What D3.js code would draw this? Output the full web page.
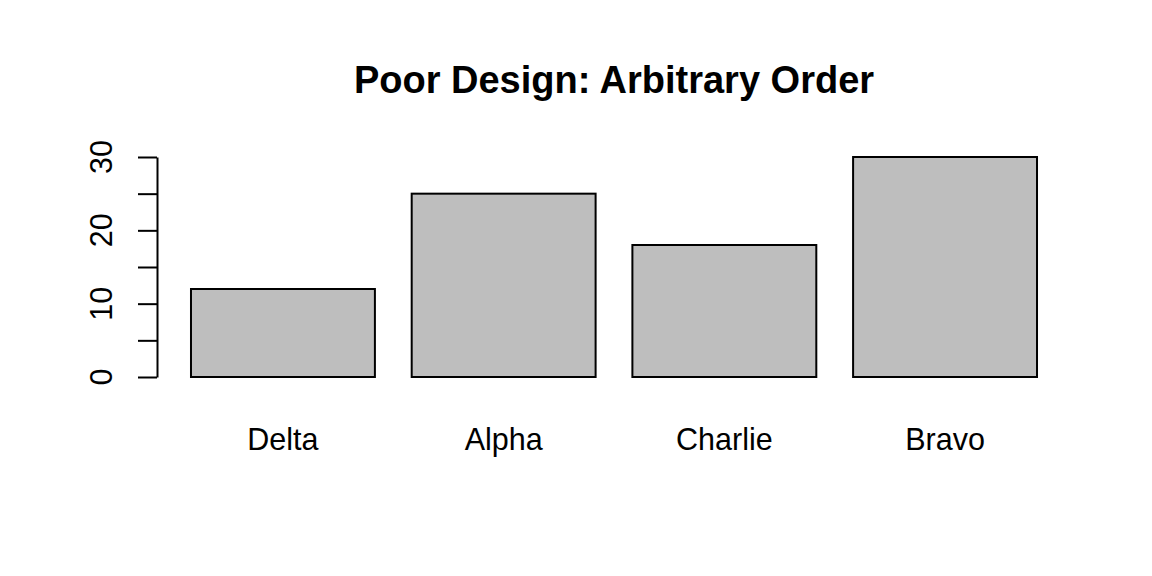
<html>
<head>
    <script src="https://cdn.jsdelivr.net/npm/d3@7"></script>
    <style>
        body { margin: 0; background: white; }
        svg { font-family: "Liberation Sans", Arial, sans-serif; }
    </style>
</head>
<body>
<svg id="chart"></svg>
<script>
    // data
    let categories = ["Delta", "Alpha", "Charlie", "Bravo"];
    let values = [12, 25, 18, 30];
    let tickValues = [0, 5, 10, 15, 20, 25, 30];
    let tickLabels = ["0", "", "10", "", "20", "", "30"];
    let title = "Poor Design: Arbitrary Order";

    let width = 1152, height = 576;
    let svg = d3.select("#chart").attr("width", width).attr("height", height);

    let xScale = d3.scaleBand()
        .domain(categories)
        .range([172.6, 1055.4])
        .paddingInner(1 / 6)
        .paddingOuter(1 / 12);

    let yScale = d3.scaleLinear()
        .domain([0, 30])
        .range([377, 157]);

    // bars
    svg.selectAll(".bar")
        .data(categories)
        .enter().append("rect")
        .attr("class", "bar")
        .attr("x", d => xScale(d))
        .attr("y", (d, i) => yScale(values[i]))
        .attr("width", xScale.bandwidth())
        .attr("height", (d, i) => yScale(0) - yScale(values[i]))
        .style("fill", "#bebebe")
        .style("stroke", "black")
        .style("stroke-width", 2);

    // category labels
    svg.selectAll(".cat")
        .data(categories)
        .enter().append("text")
        .attr("class", "cat")
        .attr("x", d => xScale(d) + xScale.bandwidth() / 2)
        .attr("y", 450)
        .attr("text-anchor", "middle")
        .style("font-size", "30.5px")
        .text(d => d);

    // y axis
    let axisY = d3.axisLeft(yScale)
        .tickValues(tickValues)
        .tickSize(19)
        .tickSizeOuter(0)
        .tickFormat("");
    let gy = svg.append("g")
        .attr("transform", "translate(157,0)")
        .call(axisY);
    gy.selectAll("path, line").style("stroke", "black").style("stroke-width", 2);

    svg.selectAll(".ylab")
        .data(tickValues)
        .enter().append("text")
        .attr("class", "ylab")
        .attr("transform", d => `translate(112,${yScale(d)}) rotate(-90)`)
        .attr("text-anchor", "middle")
        .style("font-size", "30.5px")
        .text((d, i) => tickLabels[i]);

    // title
    svg.append("text")
        .attr("x", 614)
        .attr("y", 93)
        .attr("text-anchor", "middle")
        .style("font-size", "38px")
        .style("font-weight", "bold")
        .text(title);
</script>
</body>
</html>
